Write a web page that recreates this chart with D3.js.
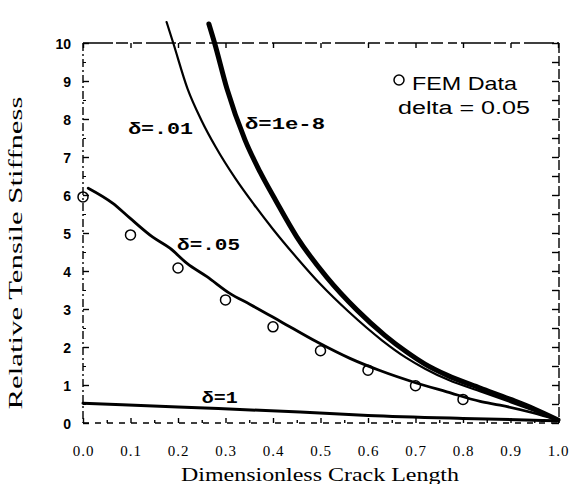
<!DOCTYPE html>
<html><head><meta charset="utf-8">
<script src="https://cdn.jsdelivr.net/npm/d3@7"></script>
<style>body{margin:0;background:#fff}svg{display:block}</style>
</head><body><svg id="c" width="573" height="484"></svg>
<script>
// ---- data ----
const xTicks = [0,0.1,0.2,0.3,0.4,0.5,0.6,0.7,0.8,0.9,1.0];
const xTickLabels = ["0.0","0.1","0.2","0.3","0.4","0.5","0.6","0.7","0.8","0.9","1.0"];
const yTicks = [0,1,2,3,4,5,6,7,8,9,10];
const yTickLabels = ["0","1","2","3","4","5","6","7","8","9","10"];
const seriesLabels = ["δ=1e-8","δ=.01","δ=.05","δ=1"];
const delta1e8 = [[0.265,10.5],[0.277,10.0],[0.303,8.8],[0.341,7.45],[0.373,6.6],[0.406,5.85],[0.45,4.9],[0.513,3.84],[0.577,2.97],[0.636,2.3],[0.68,1.88],[0.72,1.55],[0.766,1.26],[0.836,0.92],[0.9,0.62],[0.95,0.37],[1.0,0.08]];
const delta01 = [[0.176,10.55],[0.19,10.0],[0.22,8.8],[0.25,7.95],[0.28,7.25],[0.32,6.45],[0.36,5.75],[0.40,5.1],[0.45,4.35],[0.50,3.65],[0.56,2.92],[0.63,2.17],[0.68,1.72],[0.72,1.43],[0.77,1.13],[0.84,0.82],[0.9,0.55],[0.95,0.32],[1.0,0.08]];
const delta05 = [[0.011,6.18],[0.063,5.78],[0.099,5.39],[0.147,4.89],[0.183,4.6],[0.219,4.2],[0.261,3.85],[0.309,3.41],[0.352,3.12],[0.415,2.68],[0.493,2.13],[0.562,1.7],[0.625,1.38],[0.7,1.06],[0.766,0.82],[0.836,0.57],[0.878,0.47],[0.947,0.27],[1.0,0.08]];
const delta1 = [[0,0.52],[0.2,0.42],[0.457,0.29],[0.6,0.2],[0.8,0.12],[1.0,0.06]];
const femX = [0,0.1,0.2,0.3,0.4,0.5,0.6,0.7,0.8];
const femY = [5.95,4.95,4.08,3.24,2.53,1.9,1.39,0.98,0.62];

// ---- layout ----
const svg = d3.select("#c");
const L = 83, R = 558, T = 43, B = 423;
const x = d3.scaleLinear().domain([0,1]).range([L,R]);
const y = d3.scaleLinear().domain([0,10]).range([B,T]);

// frame (scanned, broken look)
const frame = svg.append("g").attr("stroke","#000").attr("fill","none").attr("stroke-width",1.4);
frame.append("line").attr("x1",L).attr("y1",T).attr("x2",R+1).attr("y2",T).attr("stroke-dasharray","30,3,12,5,9,4");
frame.append("line").attr("x1",L).attr("y1",T).attr("x2",L).attr("y2",B).attr("stroke-dasharray","8,3,2,3");
frame.append("line").attr("x1",R+1).attr("y1",T).attr("x2",R+1).attr("y2",B).attr("stroke-dasharray","10,3");
frame.append("line").attr("x1",L).attr("y1",B).attr("x2",R+1).attr("y2",B).attr("stroke-dasharray","6,6");

// axes
const yAxis = svg.append("g").attr("transform",`translate(${L},0)`)
  .call(d3.axisLeft(y).tickValues(yTicks).tickFormat((d,i)=>yTickLabels[i]).tickSize(-6).tickSizeOuter(0).tickPadding(12));
yAxis.select(".domain").remove();
yAxis.selectAll("line").attr("stroke-width",1.4);
yAxis.selectAll("text").attr("font-family","Liberation Sans, Arial, sans-serif").attr("font-weight","bold").attr("font-size",14).attr("fill","#000").attr("dy","0.42em");

const yMinor = svg.append("g").attr("transform",`translate(${L},0)`)
  .call(d3.axisLeft(y).tickValues(yTicks.slice(0,-1).map(d=>d+0.5)).tickFormat("").tickSize(-3).tickSizeOuter(0));
yMinor.select(".domain").remove();

const yRight = svg.append("g").attr("transform",`translate(${R+1},0)`)
  .call(d3.axisRight(y).tickValues(d3.range(0,10.01,0.5)).tickFormat("").tickSize(-7).tickSizeOuter(0));
yRight.select(".domain").remove();
yRight.selectAll("line").attr("stroke-width",1.4);

const xAxis = svg.append("g").attr("transform",`translate(0,${B})`)
  .call(d3.axisBottom(x).tickValues(xTicks).tickFormat((d,i)=>xTickLabels[i]).tickSize(-5).tickSizeOuter(0).tickPadding(22));
xAxis.select(".domain").remove();
xAxis.selectAll("line").attr("stroke-width",1.4);
xAxis.selectAll("text").attr("font-family","Liberation Serif, Times New Roman, serif").attr("font-size",15).attr("fill","#000").attr("letter-spacing","1px");

const xMinor = svg.append("g").attr("transform",`translate(0,${B})`)
  .call(d3.axisBottom(x).tickValues(xTicks.slice(0,-1).map(d=>d+0.05)).tickFormat("").tickSize(-3).tickSizeOuter(0));
xMinor.select(".domain").remove();
xMinor.selectAll("line").attr("stroke-width",1.4);

const xTop = svg.append("g").attr("transform",`translate(0,${T})`)
  .call(d3.axisTop(x).tickValues(xTicks).tickFormat("").tickSize(-5).tickSizeOuter(0));
xTop.select(".domain").remove();
xTop.selectAll("line").attr("stroke-width",1.4);

// curves
const line = d3.line().x(d=>x(d[0])).y(d=>y(d[1])).curve(d3.curveMonotoneX);
const series = [
  {data:delta1, w:3},
  {data:delta05, w:2.8},
  {data:delta01, w:2.2},
  {data:delta1e8, w:5}
];
svg.append("g").selectAll("path").data(series).join("path")
  .attr("d",d=>line(d.data)).attr("fill","none").attr("stroke","#000")
  .attr("stroke-width",d=>d.w).attr("stroke-linecap","round").attr("stroke-linejoin","round");

// FEM points
svg.append("g").selectAll("circle").data(femX.map((v,i)=>[v,femY[i]])).join("circle")
  .attr("cx",d=>x(d[0])).attr("cy",d=>y(d[1])).attr("r",5)
  .attr("fill","none").attr("stroke","#000").attr("stroke-width",1.5);

// curve labels
const lab = svg.append("g").attr("font-family","Liberation Mono, DejaVu Sans Mono, monospace").attr("font-weight","bold").attr("font-size",16).attr("fill","#000");
const labPos = [[0.341,7.75,80],[0.095,7.6,65],[0.198,4.55,63],[0.25,0.52,36]];
seriesLabels.forEach((t,i)=>{
  lab.append("text").attr("x",x(labPos[i][0])).attr("y",y(labPos[i][1]))
    .attr("textLength",labPos[i][2]).attr("lengthAdjust","spacingAndGlyphs").text(t);
});

// legend
svg.append("circle").attr("cx",399).attr("cy",80).attr("r",5).attr("fill","none").attr("stroke","#000").attr("stroke-width",1.5);
svg.append("text").attr("x",412).attr("y",90).attr("font-family","Liberation Sans, Arial, sans-serif").attr("font-size",19)
  .attr("textLength",105).attr("lengthAdjust","spacingAndGlyphs").text("FEM Data");
svg.append("text").attr("x",398).attr("y",114).attr("font-family","Liberation Sans, Arial, sans-serif").attr("font-size",18)
  .attr("textLength",132).attr("lengthAdjust","spacingAndGlyphs").text("delta = 0.05");

// axis titles
svg.append("text").attr("x",181).attr("y",481).attr("font-family","Liberation Serif, Times New Roman, serif").attr("font-size",19)
  .attr("textLength",278).attr("lengthAdjust","spacingAndGlyphs").text("Dimensionless Crack Length");
svg.append("text").attr("transform","translate(22,253) rotate(-90)").attr("text-anchor","middle")
  .attr("font-family","Liberation Serif, Times New Roman, serif").attr("font-size",19)
  .attr("textLength",313).attr("lengthAdjust","spacingAndGlyphs").text("Relative Tensile Stiffness");
</script></body></html>
